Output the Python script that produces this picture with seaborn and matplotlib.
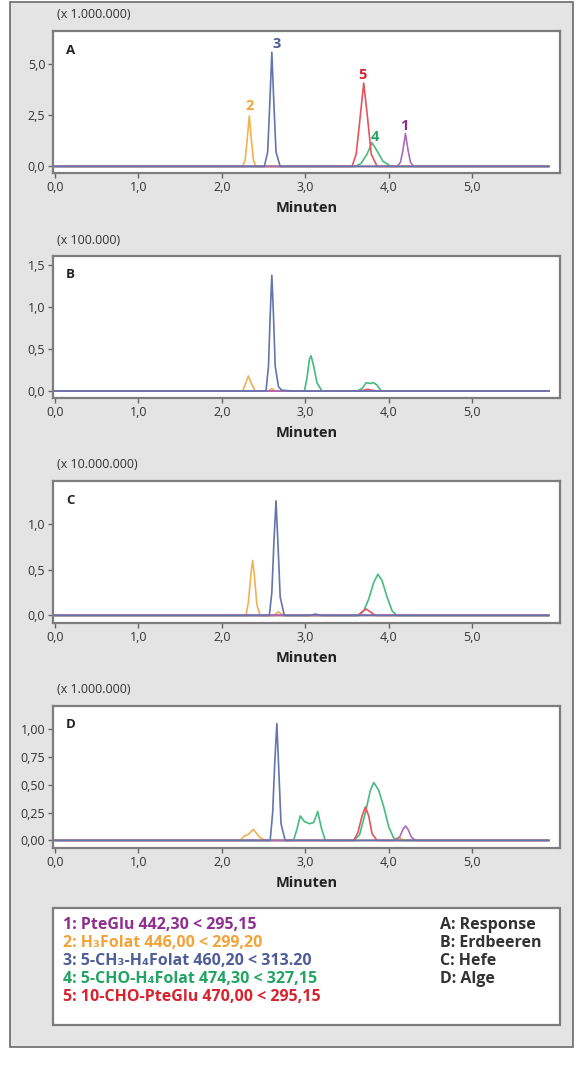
import matplotlib
matplotlib.use("Agg")
import matplotlib.pyplot as plt
from matplotlib.patches import Rectangle
import seaborn as sns
import pandas as pd

# Retention time axis (Minuten) and signal values.
# Every trace starts and ends on the baseline (0.0 .. 5.92 min).

# Panel A: Response (x 1.000.000)
A_traces = {
    "1": ([0.0, 4.10, 4.14, 4.17, 4.20, 4.23, 4.26, 4.30, 5.92],
          [0, 0, 0.2, 0.8, 1.6, 0.8, 0.2, 0, 0]),
    "2": ([0.0, 2.25, 2.28, 2.305, 2.33, 2.355, 2.38, 2.41, 5.92],
          [0, 0, 0.3, 1.3, 2.45, 1.3, 0.3, 0, 0]),
    "3": ([0.0, 2.51, 2.55, 2.575, 2.60, 2.625, 2.65, 2.70, 5.92],
          [0, 0, 0.7, 3.0, 5.55, 3.0, 0.7, 0, 0]),
    "4": ([0.0, 3.60, 3.67, 3.74, 3.80, 3.86, 3.93, 4.03, 5.92],
          [0, 0, 0.15, 0.6, 1.15, 0.75, 0.25, 0, 0]),
    "5": ([0.0, 3.56, 3.61, 3.655, 3.70, 3.745, 3.79, 3.86, 5.92],
          [0, 0, 0.6, 2.3, 4.05, 2.4, 0.6, 0, 0]),
}

# Panel B: Erdbeeren (x 100.000)
B_traces = {
    "1": ([0.0, 5.92], [0, 0]),
    "2": ([0.0, 2.25, 2.29, 2.32, 2.35, 2.40, 2.56, 2.60, 2.64, 5.92],
          [0, 0, 0.1, 0.18, 0.1, 0, 0, 0.03, 0, 0]),
    "3": ([0.0, 2.53, 2.56, 2.58, 2.60, 2.62, 2.64, 2.68, 2.72, 2.85, 5.92],
          [0, 0, 0.3, 0.9, 1.38, 0.9, 0.3, 0.05, 0.01, 0, 0]),
    "4": ([0.0, 2.99, 3.02, 3.05, 3.07, 3.10, 3.14, 3.20, 3.62, 3.68, 3.73, 3.78, 3.82, 3.86, 3.91, 5.92],
          [0, 0, 0.15, 0.38, 0.42, 0.3, 0.1, 0, 0, 0.03, 0.1, 0.09, 0.1, 0.07, 0, 0]),
    "5": ([0.0, 3.65, 3.75, 3.85, 5.92], [0, 0, 0.02, 0, 0]),
}

# Panel C: Hefe (x 10.000.000)
C_traces = {
    "1": ([0.0, 5.92], [0, 0]),
    "2": ([0.0, 2.29, 2.32, 2.35, 2.37, 2.39, 2.42, 2.46, 2.62, 2.68, 2.74, 5.92],
          [0, 0, 0.15, 0.45, 0.6, 0.45, 0.12, 0, 0, 0.04, 0, 0]),
    "3": ([0.0, 2.57, 2.60, 2.625, 2.65, 2.675, 2.70, 2.75, 3.05, 3.12, 3.20, 5.92],
          [0, 0, 0.25, 0.8, 1.25, 0.75, 0.2, 0, 0, 0.015, 0, 0]),
    "4": ([0.0, 3.64, 3.70, 3.76, 3.82, 3.87, 3.92, 3.98, 4.04, 4.10, 5.92],
          [0, 0, 0.05, 0.18, 0.36, 0.45, 0.38, 0.2, 0.05, 0, 0]),
    "5": ([0.0, 3.63, 3.68, 3.73, 3.78, 3.84, 5.92],
          [0, 0, 0.04, 0.07, 0.04, 0, 0]),
}

# Panel D: Alge (x 1.000.000)
D_traces = {
    "1": ([0.0, 4.08, 4.13, 4.17, 4.20, 4.23, 4.27, 4.32, 5.92],
          [0, 0, 0.03, 0.1, 0.13, 0.1, 0.03, 0, 0]),
    "2": ([0.0, 2.22, 2.27, 2.31, 2.38, 2.45, 2.52, 4.05, 4.12, 4.18, 5.92],
          [0, 0, 0.04, 0.05, 0.1, 0.03, 0, 0, 0.03, 0, 0]),
    "3": ([0.0, 2.58, 2.61, 2.635, 2.66, 2.685, 2.71, 2.76, 5.92],
          [0, 0, 0.25, 0.7, 1.05, 0.6, 0.15, 0, 0]),
    "4": ([0.0, 2.86, 2.90, 2.94, 2.99, 3.05, 3.10, 3.15, 3.19, 3.24, 3.58, 3.65, 3.72,
           3.78, 3.82, 3.88, 3.94, 4.00, 4.06, 4.12, 5.92],
          [0, 0, 0.1, 0.22, 0.17, 0.15, 0.16, 0.26, 0.12, 0, 0, 0.05, 0.25,
           0.45, 0.52, 0.45, 0.3, 0.12, 0.02, 0, 0]),
    "5": ([0.0, 3.58, 3.63, 3.68, 3.72, 3.76, 3.80, 3.86, 5.92],
          [0, 0, 0.07, 0.22, 0.30, 0.22, 0.06, 0, 0]),
}

panels = ["A", "B", "C", "D"]
multipliers = ["(x 1.000.000)", "(x 100.000)", "(x 10.000.000)", "(x 1.000.000)"]
y_limits = [(-0.32, 6.58), (-0.083, 1.61), (-0.082, 1.466), (-0.068, 1.207)]
y_ticks = [[0.0, 2.5, 5.0], [0.0, 0.5, 1.0, 1.5], [0.0, 0.5, 1.0], [0.0, 0.25, 0.5, 0.75, 1.0]]
y_tick_labels = [["0,0", "2,5", "5,0"], ["0,0", "0,5", "1,0", "1,5"], ["0,0", "0,5", "1,0"],
                 ["0,00", "0,25", "0,50", "0,75", "1,00"]]
x_ticks = [0.0, 1.0, 2.0, 3.0, 4.0, 5.0]
x_tick_labels = ["0,0", "1,0", "2,0", "3,0", "4,0", "5,0"]

# peak numbers in panel A: compound, x, y
peak_ids = ["3", "2", "5", "4", "1"]
peak_x = [2.66, 2.33, 3.68, 3.84, 4.19]
peak_y = [5.95, 2.95, 4.45, 1.45, 1.95]

compounds = ["1: PteGlu 442,30 < 295,15",
             "2: H₃Folat 446,00 < 299,20",
             "3: 5-CH₃-H₄Folat 460,20 < 313.20",
             "4: 5-CHO-H₄Folat 474,30 < 327,15",
             "5: 10-CHO-PteGlu 470,00 < 295,15"]
samples = ["A: Response", "B: Erdbeeren", "C: Hefe", "D: Alge"]

line_colors = {"1": "#ac6cbd", "2": "#f3b052", "3": "#6474ad", "4": "#45bb7d", "5": "#e5535b"}
text_colors = {"1": "#8e2f8f", "2": "#f2a33a", "3": "#4f5d99", "4": "#22a463", "5": "#d8232e"}

# long table for seaborn
rows = []
for p, traces in zip(panels, [A_traces, B_traces, C_traces, D_traces]):
    for comp, (xs, ys) in traces.items():
        for x, y in zip(xs, ys):
            rows.append({"panel": p, "compound": comp, "Minuten": x, "signal": y})
df = pd.DataFrame(rows)

sns.set_theme(style="white")
plt.rcParams["font.family"] = ["Open Sans", "DejaVu Sans"]

W, H = 580, 1070
fig = plt.figure(figsize=(5.8, 10.7), dpi=100)
fig.patch.set_facecolor("white")

# grey outer frame, behind the axes
fig.patches.append(Rectangle((10 / W, 1 - 1047 / H), 563 / W, 1045 / H, transform=fig.transFigure,
                             facecolor="#e4e4e4", edgecolor="#6a6a6a", linewidth=1.2, zorder=-5))

box_left, box_right = 53, 560
box_tops = [31, 256, 481, 706]
box_h = 142

for i, p in enumerate(panels):
    top = box_tops[i]
    ax = fig.add_axes([box_left / W, 1 - (top + box_h) / H, (box_right - box_left) / W, box_h / H])
    ax.set_facecolor("white")
    sns.lineplot(data=df[df.panel == p], x="Minuten", y="signal", hue="compound",
                 hue_order=["2", "4", "5", "1", "3"], palette=line_colors,
                 estimator=None, sort=False, legend=False, linewidth=1.2, ax=ax)
    ax.set_xlim(-0.02, 6.05)
    ax.set_ylim(*y_limits[i])
    ax.set_xticks(x_ticks)
    ax.set_xticklabels(x_tick_labels)
    ax.set_yticks(y_ticks[i])
    ax.set_yticklabels(y_tick_labels[i])
    ax.tick_params(axis="both", which="both", direction="out", length=3.5, width=1,
                   color="#666666", labelsize=9, labelcolor="#333333", pad=2,
                   bottom=True, left=True)
    ax.set_xlabel("Minuten", fontsize=10.5, fontweight="bold", color="#222222", labelpad=5)
    ax.set_ylabel("")
    for s in ax.spines.values():
        s.set_color("#7d7d7d")
        s.set_linewidth(1.6)
    ax.text(0.008, 1 + 16 / box_h, multipliers[i], transform=ax.transAxes,
            fontsize=9, color="#333333", va="center", ha="left")
    ax.text(0.035, 1 - 19 / box_h, p, transform=ax.transAxes,
            fontsize=9.5, fontweight="bold", color="#222222", va="center", ha="center")
    if p == "A":
        for c, x, y in zip(peak_ids, peak_x, peak_y):
            ax.text(x, y, c, color=text_colors[c], fontsize=10.5, fontweight="bold",
                    ha="center", va="center")

# legend box
leg_top, leg_bottom = 908, 1025
fig.patches.append(Rectangle((box_left / W, 1 - leg_bottom / H), (box_right - box_left) / W,
                             (leg_bottom - leg_top) / H, transform=fig.transFigure,
                             facecolor="white", edgecolor="#7d7d7d", linewidth=1.6, zorder=-1))
for k, txt in enumerate(compounds):
    fig.text(63 / W, 1 - (925 + 18 * k) / H, txt, color=text_colors[str(k + 1)],
             fontsize=11.5, fontweight="bold", va="center", ha="left")
for k, txt in enumerate(samples):
    fig.text(440 / W, 1 - (925 + 18 * k) / H, txt, color="#333333",
             fontsize=11.5, fontweight="bold", va="center", ha="left")

fig.savefig("out.png", dpi=100)
